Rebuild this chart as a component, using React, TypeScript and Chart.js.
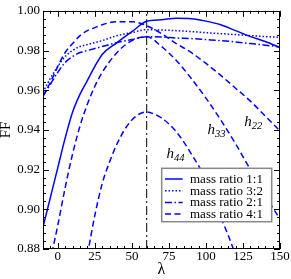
import React, { useEffect, useRef } from 'react';
import { Chart, registerables } from 'chart.js';

Chart.register(...registerables);

// ---- data ----
const lambdaMain = [-10, -5, 0, 5, 10, 15, 20, 25, 30, 40, 50, 60, 70, 80, 90, 100, 110, 120, 130, 140, 150];
const ffRatio11 = [0.891, 0.906, 0.921, 0.936, 0.949, 0.958, 0.965, 0.972, 0.978, 0.984, 0.9895, 0.9947, 0.9955, 0.9962, 0.996, 0.9948, 0.993, 0.990, 0.987, 0.9845, 0.9815];
const ffRatio32 = [0.959, 0.966, 0.972, 0.977, 0.980, 0.982, 0.983, 0.984, 0.985, 0.9875, 0.989, 0.9905, 0.9903, 0.990, 0.9895, 0.989, 0.9885, 0.988, 0.9875, 0.987, 0.9866];
const ffRatio21 = [0.957, 0.963, 0.969, 0.974, 0.977, 0.979, 0.980, 0.981, 0.982, 0.984, 0.9855, 0.9869, 0.9868, 0.9863, 0.986, 0.9855, 0.985, 0.9843, 0.9835, 0.9827, 0.9818];
const ffRatio41H22 = [0.957, 0.964, 0.972, 0.979, 0.9835, 0.9875, 0.990, 0.9915, 0.993, 0.9945, 0.9945, 0.9925, 0.9885, 0.9835, 0.979, 0.9735, 0.9675, 0.961, 0.9545, 0.947, 0.9395];
const lambdaH33 = [-4, 0, 5, 10, 15, 20, 25, 30, 40, 50, 60, 70, 80, 90, 100, 110, 120, 130, 140, 150];
const ffRatio41H33 = [0.878, 0.892, 0.911, 0.928, 0.942, 0.953, 0.962, 0.969, 0.979, 0.985, 0.987, 0.982, 0.975, 0.966, 0.956, 0.945, 0.933, 0.920, 0.907, 0.895];
const lambdaH44 = [20, 25, 30, 35, 40, 45, 50, 55, 60, 65, 70, 75, 80, 85, 90, 95, 100, 105, 110, 115, 120];
const ffRatio41H44 = [0.877, 0.897, 0.913, 0.924, 0.933, 0.940, 0.945, 0.948, 0.949, 0.948, 0.946, 0.943, 0.939, 0.934, 0.928, 0.922, 0.915, 0.906, 0.896, 0.887, 0.877];
const lambdaPeak = [60, 60];
const ffPeak = [0.88, 1.0];

const seriesLabels = ['mass ratio 1:1', 'mass ratio 3:2', 'mass ratio 2:1', 'mass ratio 4:1'];
const xTickValues = [0, 25, 50, 75, 100, 125, 150];
const yTickValues = [0.88, 0.9, 0.92, 0.94, 0.96, 0.98, 1.0];
const modeSubscripts = ['22', '33', '44'];
const modeLabelLambda = [125.8, 101, 73.3];
const modeLabelFF = [0.942, 0.9377, 0.9258];

const SERIF = "'Liberation Serif', 'Times New Roman', serif";
const BLUE = 'rgb(0,0,255)';

const pts = (xs: number[], ys: number[]) => xs.map((v, i) => ({ x: v, y: ys[i] }));

const decorPlugin = {
  id: 'decor',
  afterDatasetsDraw(chart: any) {
    const { ctx, chartArea: a, scales } = chart;
    const x = scales.x;
    const y = scales.y;
    ctx.save();
    ctx.setLineDash([]);
    ctx.strokeStyle = '#000';
    ctx.lineWidth = 1;
    ctx.beginPath();
    for (let v = -10; v <= 150; v += 5) {
      const px = Math.round(x.getPixelForValue(v)) + 0.5;
      const len = v % 25 === 0 ? 6 : 3;
      ctx.moveTo(px, a.bottom);
      ctx.lineTo(px, a.bottom - len);
      ctx.moveTo(px, a.top);
      ctx.lineTo(px, a.top + len);
    }
    for (let i = 0; i <= 30; i++) {
      const v = 0.88 + i * 0.004;
      const py = Math.round(y.getPixelForValue(v)) + 0.5;
      const len = i % 5 === 0 ? 6 : 3;
      ctx.moveTo(a.left, py);
      ctx.lineTo(a.left + len, py);
      ctx.moveTo(a.right, py);
      ctx.lineTo(a.right - len, py);
    }
    ctx.stroke();
    ctx.strokeRect(Math.round(a.left) + 0.5, Math.round(a.top) + 0.5, Math.round(a.right - a.left) - 1, Math.round(a.bottom - a.top) - 1);

    // mode labels
    ctx.fillStyle = '#000';
    ctx.textBaseline = 'alphabetic';
    ctx.textAlign = 'left';
    modeSubscripts.forEach((sub, i) => {
      const px = x.getPixelForValue(modeLabelLambda[i]);
      const py = y.getPixelForValue(modeLabelFF[i]);
      ctx.font = `italic 15px ${SERIF}`;
      ctx.fillText('h', px, py);
      const w = ctx.measureText('h').width;
      ctx.font = `italic 10.5px ${SERIF}`;
      ctx.fillText(sub, px + w, py + 3);
    });

    // legend
    const bx = a.right - 118.3;
    const by = a.bottom - 80.7;
    const bw = 110;
    const bh = 53.4;
    ctx.fillStyle = '#fff';
    ctx.fillRect(bx, by, bw, bh);
    ctx.strokeStyle = '#888';
    ctx.lineWidth = 1.5;
    ctx.strokeRect(bx, by, bw, bh);
    const legendSets = chart.data.datasets.filter((d: any) => d.inLegend);
    legendSets.forEach((d: any, i: number) => {
      const cy = by + 10.7 + i * 11.7;
      ctx.strokeStyle = d.borderColor;
      ctx.lineWidth = d.borderWidth;
      ctx.setLineDash(d.borderDash || []);
      ctx.beginPath();
      ctx.moveTo(bx + 3.3, cy);
      ctx.lineTo(bx + 21, cy);
      ctx.stroke();
      ctx.setLineDash([]);
      ctx.fillStyle = '#000';
      ctx.font = `13px ${SERIF}`;
      ctx.textBaseline = 'middle';
      ctx.fillText(d.label, bx + 28.3, cy + 0.5);
    });
    ctx.restore();
  },
};

export default function App() {
  const canvasRef = useRef<HTMLCanvasElement | null>(null);

  useEffect(() => {
    const canvas = canvasRef.current;
    if (!canvas) return;
    const common = { pointRadius: 0, fill: false, cubicInterpolationMode: 'monotone' as const, borderColor: BLUE, borderWidth: 1.5 };
    const chart = new Chart(canvas, {
      type: 'line',
      data: {
        datasets: [
          { ...common, label: seriesLabels[0], data: pts(lambdaMain, ffRatio11), borderDash: [], inLegend: true } as any,
          { ...common, label: seriesLabels[1], data: pts(lambdaMain, ffRatio32), borderDash: [1.5, 2], inLegend: true } as any,
          { ...common, label: seriesLabels[2], data: pts(lambdaMain, ffRatio21), borderDash: [7, 2.5, 1.5, 2.5], inLegend: true } as any,
          { ...common, label: seriesLabels[3], data: pts(lambdaMain, ffRatio41H22), borderDash: [6, 3.5], inLegend: true } as any,
          { ...common, label: seriesLabels[3] + ' h33', data: pts(lambdaH33, ffRatio41H33), borderDash: [6, 3.5] } as any,
          { ...common, label: seriesLabels[3] + ' h44', data: pts(lambdaH44, ffRatio41H44), borderDash: [6, 3.5] } as any,
          { label: 'peak', data: pts(lambdaPeak, ffPeak), borderColor: '#000', borderWidth: 1, borderDash: [9, 3, 2, 3], pointRadius: 0, fill: false } as any,
        ],
      },
      options: {
        responsive: false,
        animation: false,
        devicePixelRatio: 1,
        layout: { padding: { top: 5, right: 11, left: 0, bottom: 0 } },
        plugins: { legend: { display: false }, tooltip: { enabled: false } },
        scales: {
          x: {
            type: 'linear',
            min: -10,
            max: 150,
            grid: { display: false, drawTicks: false },
            border: { display: false },
            ticks: { color: '#000', font: { family: SERIF, size: 13 }, padding: 0, maxRotation: 0, autoSkip: false, callback: (v: any) => String(v) },
            afterBuildTicks: (s: any) => { s.ticks = xTickValues.map((v) => ({ value: v })); },
            afterFit: (s: any) => { s.height = 30; },
            title: { display: true, text: 'λ', color: '#000', font: { family: SERIF, size: 16 }, padding: 0 },
          },
          y: {
            type: 'linear',
            min: 0.88,
            max: 1.0,
            grid: { display: false, drawTicks: false },
            border: { display: false },
            ticks: { color: '#000', font: { family: SERIF, size: 13 }, padding: 3, autoSkip: false, callback: (v: any) => Number(v).toFixed(2) },
            afterBuildTicks: (s: any) => { s.ticks = yTickValues.map((v) => ({ value: v })); },
            afterFit: (s: any) => { s.width = 43; },
            title: { display: true, text: 'FF', color: '#000', font: { family: SERIF, size: 15, lineHeight: 1 }, padding: { top: -1.5, bottom: 0 } },
          },
        },
      },
      plugins: [decorPlugin],
    });
    return () => chart.destroy();
  }, []);

  return (
    <div style={{ position: 'absolute', left: 0, top: 0, width: 291, height: 279 }}>
      <canvas ref={canvasRef} width={291} height={279} style={{ display: 'block' }} />
    </div>
  );
}
